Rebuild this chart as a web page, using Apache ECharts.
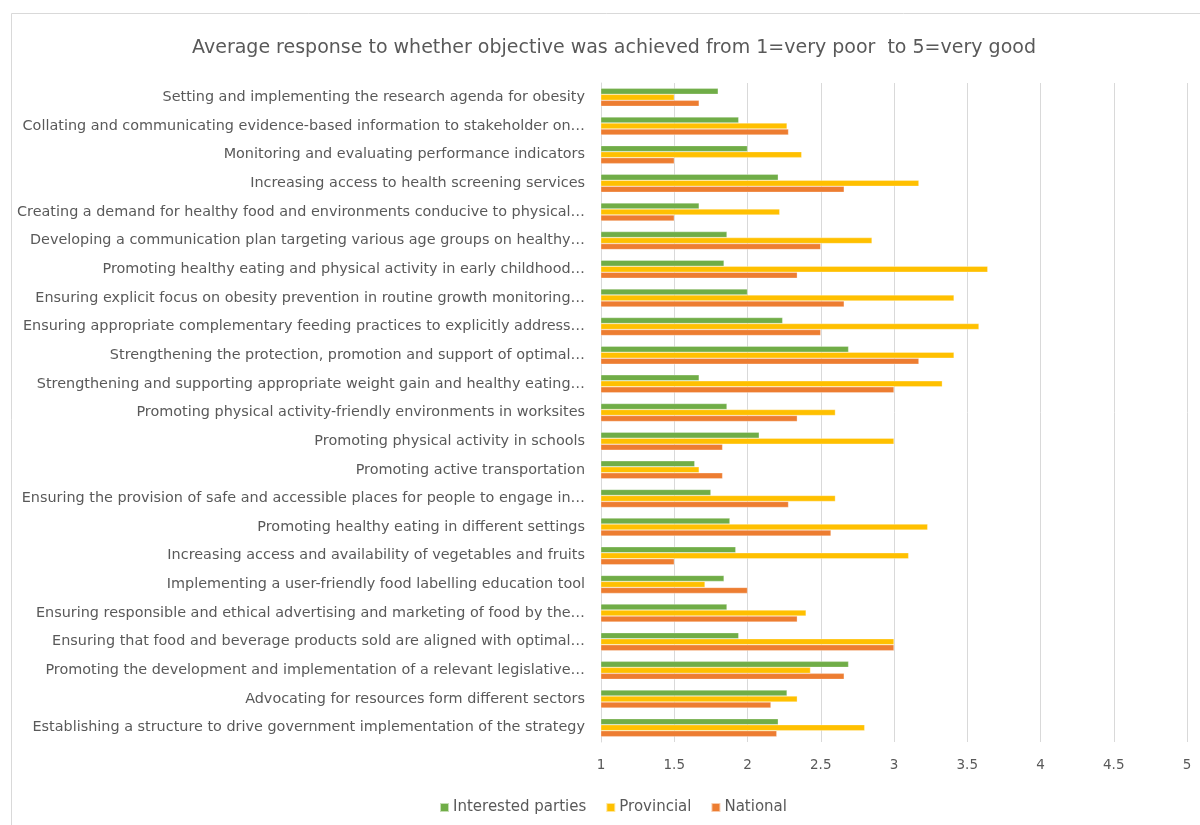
<!DOCTYPE html>
<html>
<head>
<meta charset="utf-8">
<script src="https://cdn.jsdelivr.net/npm/echarts@6/dist/echarts.min.js"></script>
<style>
  html, body { margin: 0; padding: 0; background: #ffffff; }
  #chart { width: 1200px; height: 825px; }
</style>
</head>
<body>
<div id="chart"></div>
<script>
// Strategy objectives (top to bottom)
const objectives = [
  "Setting and implementing the research agenda for obesity",
  "Collating and communicating evidence-based information to stakeholder on…",
  "Monitoring and evaluating performance indicators",
  "Increasing access to health screening services",
  "Creating a demand for healthy food and environments conducive to physical…",
  "Developing a communication plan targeting various age groups on healthy…",
  "Promoting healthy eating and physical activity in early childhood…",
  "Ensuring explicit focus on obesity prevention in routine growth monitoring…",
  "Ensuring appropriate complementary feeding practices to explicitly address…",
  "Strengthening the protection, promotion and support of optimal…",
  "Strengthening and supporting appropriate weight gain and healthy eating…",
  "Promoting physical activity-friendly environments in worksites",
  "Promoting physical activity in schools",
  "Promoting active transportation",
  "Ensuring the provision of safe and accessible places for people to engage in…",
  "Promoting healthy eating in different settings",
  "Increasing access and availability of vegetables and fruits",
  "Implementing a user-friendly food labelling education tool",
  "Ensuring responsible and ethical advertising and marketing of food by the…",
  "Ensuring that food and beverage products sold are aligned with optimal…",
  "Promoting the development and implementation of a relevant legislative…",
  "Advocating for resources form different sectors",
  "Establishing a structure to drive government implementation of the strategy"
];

// Average scores per respondent group (1 = very poor, 5 = very good)
const interestedParties = [1.80, 1.94, 2.00, 2.21, 1.67, 1.86, 1.84, 2.00, 2.24, 2.69, 1.67, 1.86,
  2.08, 1.64, 1.75, 1.88, 1.92, 1.84, 1.86, 1.94, 2.69, 2.27, 2.21];
const provincial = [1.50, 2.27, 2.37, 3.17, 2.22, 2.85, 3.64, 3.41, 3.58, 3.41, 3.33, 2.60,
  3.00, 1.67, 2.60, 3.23, 3.10, 1.71, 2.40, 3.00, 2.43, 2.34, 2.80];
const national = [1.67, 2.28, 1.50, 2.66, 1.50, 2.50, 2.34, 2.66, 2.50, 3.17, 3.00, 2.34,
  1.83, 1.83, 2.28, 2.57, 1.50, 2.00, 2.34, 3.00, 2.66, 2.16, 2.20];

const seriesNames = ["Interested parties", "Provincial", "National"];
const seriesColors = ["#70AD47", "#FFC000", "#ED7D31"];
const xTicks = { min: 1, max: 5, interval: 0.5 };

const textColor = "#595959";
const fontFamily = "'DejaVu Sans', 'Liberation Sans', sans-serif";

const chart = echarts.init(document.getElementById("chart"), null, { renderer: "canvas" });

const values = [interestedParties, provincial, national];

chart.setOption({
  animation: false,
  backgroundColor: "#ffffff",
  textStyle: { fontFamily: fontFamily },
  graphic: [{
    type: "rect",
    shape: { x: 11.5, y: 13.5, width: 1200, height: 830 },
    style: { fill: "none", stroke: "#d9d9d9", lineWidth: 1 },
    silent: true
  }],
  title: {
    text: "Average response to whether objective was achieved from 1=very poor  to 5=very good",
    left: 609,
    textAlign: "center",
    top: 34,
    textStyle: { color: textColor, fontSize: 19, fontWeight: "normal", fontFamily: fontFamily }
  },
  legend: {
    data: seriesNames,
    bottom: 5,
    left: 434,
    itemWidth: 9,
    itemHeight: 9,
    itemGap: 19,
    icon: "rect",
    textStyle: { color: textColor, fontSize: 15, fontFamily: fontFamily, padding: [0, 0, 0, -1] }
  },
  grid: {
    left: 601,
    right: 13,
    top: 83,
    bottom: 83,
    containLabel: false
  },
  xAxis: {
    type: "value",
    min: xTicks.min,
    max: xTicks.max,
    interval: xTicks.interval,
    axisLine: { show: false },
    axisTick: { show: false },
    axisLabel: { color: textColor, fontSize: 13.5, margin: 16, fontFamily: fontFamily },
    splitLine: { show: true, lineStyle: { color: "#d9d9d9", width: 1 } }
  },
  yAxis: {
    type: "category",
    data: objectives,
    inverse: true,
    axisLine: { show: true, lineStyle: { color: "#d9d9d9" } },
    axisTick: { show: false },
    axisLabel: { color: textColor, fontSize: 14.4, margin: 16, fontFamily: fontFamily }
  },
  series: seriesNames.map((name, i) => ({
    name: name,
    type: "bar",
    data: values[i],
    barWidth: 6,
    barGap: "0%",
    barCategoryGap: "37%",
    itemStyle: { color: seriesColors[i], borderColor: "rgba(255,255,255,0.6)", borderWidth: 0.5 }
  }))
});
</script>
</body>
</html>
